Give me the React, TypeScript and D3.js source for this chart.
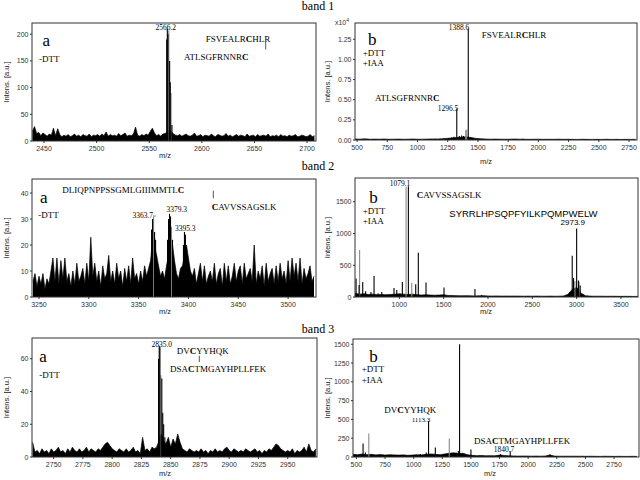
import React from "react";
import * as d3 from "d3";

// ---------------- DATA ----------------
// Band titles
const bandTitles = ["band 1", "band 2", "band 3"];

// Panel 1a (-DTT), noise profile sampled every 2 m/z from 2439
const base1aStart = 2439;
const base1aStep = 2;
const base1a = [
  18, 27, 14, 16, 10, 15, 12, 9, 13, 11,
  24, 10, 23, 12, 8, 11, 9, 12, 8, 10,
  13, 9, 11, 8, 12, 10, 9, 13, 8, 11,
  10, 12, 9, 13, 10, 17, 9, 12, 10, 11,
  9, 14, 10, 12, 15, 9, 11, 10, 13, 26,
  11, 9, 12, 10, 13, 11, 18, 24, 15, 10,
  12, 9, 13, 14, 16, 20, 18, 13, 11, 10,
  12, 9, 11, 13, 10, 9, 11, 15, 9, 10,
  12, 8, 11, 10, 9, 13, 10, 8, 12, 11,
  9, 10, 14, 9, 11, 8, 10, 12, 9, 11,
  10, 8, 13, 9, 10, 11, 8, 12, 9, 10,
  11, 9, 13, 8, 10, 9, 11, 8, 12, 9,
  10, 8, 11, 9, 10, 12, 8, 9, 11, 10,
  8, 9, 12, 8, 10,
];
const peaks1a: [number, number][] = [
  [2566.6, 190], [2567.2, 210], [2567.8, 200], [2569.4, 150], [2570.0, 110], [2571.6, 30],
];
const gray1a: [number, number][] = [[2568.6, 207], [2570.8, 90]];

// Panel 1b (+DTT +IAA), x10^4
const base1bStart = 483;
const base1bStep = 40;
const base1b = [
  0.012, 0.01, 0.014, 0.009, 0.011, 0.01, 0.012, 0.009, 0.01, 0.011,
  0.009, 0.01, 0.012, 0.009, 0.01, 0.011, 0.013, 0.012, 0.015, 0.02,
  0.025, 0.03, 0.035, 0.04, 0.03, 0.02, 0.015, 0.012, 0.01, 0.011,
  0.01, 0.009, 0.01, 0.012, 0.01, 0.009, 0.008, 0.009, 0.01, 0.008,
  0.009, 0.008, 0.01, 0.008, 0.009, 0.008, 0.007, 0.009, 0.008, 0.007,
  0.008, 0.007, 0.009, 0.007, 0.008, 0.007, 0.008, 0.007, 0.008,
];
const peaks1b: [number, number][] = [
  [590, 0.014], [1150, 0.015], [1228, 0.02], [1255, 0.025], [1283, 0.03], [1302, 0.04],
  [1325, 0.39], [1346, 0.05], [1366, 0.055], [1380, 0.05], [1420, 1.38], [1435, 0.03], [1873, 0.014],
];
const gray1b: [number, number][] = [[1399, 0.12], [1407, 0.13]];

// Panel 2a (-DTT)
const base2aStart = 3244;
const base2aStep = 2;
const base2a = [
  6, 9, 4, 8, 5, 9, 3, 7, 5, 10,
  15, 6, 15, 5, 14, 7, 15, 6, 9, 4,
  10, 5, 13, 6, 8, 11, 5, 13, 6, 23,
  8, 13, 6, 10, 4, 12, 7, 9, 16, 6,
  10, 5, 13, 7, 10, 4, 11, 6, 12, 5,
  15, 7, 9, 5, 10, 6, 12, 8, 11, 14,
  22, 20, 16, 12, 8, 10, 7, 12, 16, 22,
  20, 14, 9, 7, 11, 12, 16, 20, 15, 10,
  8, 11, 5, 9, 13, 6, 12, 5, 8, 10,
  6, 13, 5, 9, 11, 4, 13, 6, 12, 5,
  8, 13, 6, 10, 12, 5, 13, 7, 9, 11,
  6, 20, 5, 10, 7, 12, 4, 13, 6, 9,
  11, 5, 12, 6, 13, 7, 10, 5, 14, 6,
  15, 8, 13, 6, 15, 5, 11, 7, 9, 12,
  6, 8,
];
const peaks2a: [number, number][] = [
  [3363, 26], [3364, 30], [3366, 25], [3367, 22], [3368, 16],
  [3379, 22], [3380, 30], [3381, 32], [3382, 31], [3384, 22], [3385, 16],
  [3395, 20], [3396, 25], [3397, 24], [3398, 20], [3399, 16], [3400, 13],
];
const gray2a: [number, number][] = [[3365, 31], [3383, 27]];

// Panel 2b (+DTT +IAA)
const base2bStart = 500;
const base2bStep = 50;
const base2b = [
  60, 45, 50, 40, 45, 35, 40, 35, 40, 45,
  50, 45, 40, 45, 35, 30, 35, 30, 28, 30,
  35, 25, 22, 20, 18, 20, 18, 16, 18, 20,
  16, 15, 16, 14, 15, 14, 15, 14, 13, 14,
  13, 14, 13, 12, 14, 12, 13, 15, 40, 120,
  150, 60, 20, 14, 12, 13, 12, 11, 12, 11,
  10, 11, 10, 9, 10,
];
const peaks2b: [number, number][] = [
  [512, 290], [546, 190], [587, 237], [620, 90], [680, 80], [715, 330], [760, 60], [802, 80],
  [940, 140], [971, 110], [1034, 237], [1102, 1745], [1185, 200], [1214, 695], [1301, 230],
  [1504, 150], [1853, 125], [1929, 30], [2920, 80], [2950, 650], [2965, 300], [3000, 1080],
  [3020, 260], [3040, 180],
];
const gray2b: [number, number][] = [[552, 740], [1076, 1735], [1140, 221], [2981, 250], [3029, 240]];

// Panel 3a (-DTT)
const base3aStart = 2732;
const base3aStep = 2;
const base3a = [
  9, 3, 4, 2, 5, 3, 4, 2, 5, 3,
  4, 6, 3, 4, 2, 5, 3, 6, 4, 3,
  5, 3, 4, 6, 3, 5, 4, 3, 5, 4,
  6, 8, 9, 7, 5, 4, 3, 5, 4, 3,
  5, 3, 4, 6, 3, 4, 2, 12, 4, 5,
  3, 6, 5, 6, 10, 14, 10, 8, 12, 6,
  11, 8, 14, 9, 5, 4, 3, 5, 4, 3,
  4, 3, 5, 3, 4, 2, 4, 3, 5, 3,
  4, 3, 5, 6, 4, 3, 5, 4, 3, 4,
  3, 5, 4, 3, 4, 5, 3, 4, 2, 4,
  3, 5, 4, 6, 8, 7, 5, 4, 3, 4,
  3, 5, 2, 4, 3, 4, 6, 3, 8, 4,
  3, 5,
];
const peaks3a: [number, number][] = [
  [2839.6, 60], [2840.2, 68], [2840.8, 67], [2842.4, 48], [2843.2, 27], [2844, 20], [2845, 12],
];
const gray3a: [number, number][] = [[2841.6, 50]];

// Panel 3b (+DTT +IAA)
const base3bStart = 470;
const base3bStep = 40;
const base3b = [
  35, 30, 40, 30, 35, 28, 32, 25, 30, 28,
  25, 28, 22, 25, 30, 28, 35, 40, 35, 30,
  40, 50, 55, 45, 50, 30, 22, 18, 20, 16,
  18, 15, 25, 20, 15, 14, 12, 13, 12, 11,
  12, 11, 13, 25, 12, 10, 11, 10, 11, 10,
  10, 9, 10, 9, 8, 10, 9, 8, 9, 8,
  8, 9, 8,
];
const peaks3b: [number, number][] = [
  [558, 178], [578, 60], [1058, 40], [1110, 60], [1130, 480], [1189, 125], [1348, 50],
  [1370, 55], [1390, 80], [1401, 1500], [1500, 100], [1760, 40], [1843, 75], [2191, 35],
];
const gray3b: [number, number][] = [[608, 312], [1311, 245]];

// Tick values
const xTicks1a = [2450, 2500, 2550, 2600, 2650, 2700];
const yTicks1a = [0, 50, 100, 150, 200];
const xTicks1b = [500, 750, 1000, 1250, 1500, 1750, 2000, 2250, 2500, 2750];
const yTicks1b = [0, 0.25, 0.5, 0.75, 1.0, 1.25];
const xTicks2a = [3250, 3300, 3350, 3400, 3450, 3500];
const yTicks2a = [0, 10, 20, 30, 40];
const xTicks2b = [1000, 1500, 2000, 2500, 3000, 3500];
const yTicks2b = [0, 500, 1000, 1500];
const xTicks3a = [2750, 2775, 2800, 2825, 2850, 2875, 2900, 2925, 2950];
const yTicks3a = [0, 20, 40, 60];
const xTicks3b = [500, 750, 1000, 1250, 1500, 1750, 2000, 2250, 2500, 2750];
const yTicks3b = [0, 250, 500, 750, 1000, 1250, 1500];

// ---------------- RENDERING ----------------
const SERIF = "'Liberation Serif', 'Times New Roman', serif";
const SANS = "'Liberation Sans', Arial, sans-serif";

type Pt = [number, number];
interface Box { l: number; r: number; t: number; b: number }
interface PanelProps {
  id: string;
  box: Box;
  xDomain: [number, number];
  yDomain: [number, number];
  xTicks: number[];
  yTicks: number[];
  yFmt?: (v: number) => string;
  baseStart: number;
  baseStep: number;
  base: number[];
  peaks: Pt[];
  gray: Pt[];
  xLabelX: number;
  xLabelY: number;
  yLabelX: number;
  children?: React.ReactNode;
}

function Panel(p: PanelProps) {
  const { box } = p;
  const x = d3.scaleLinear().domain(p.xDomain).range([box.l, box.r]);
  const y = d3.scaleLinear().domain(p.yDomain).range([box.b, box.t]);
  const pts: Pt[] = p.base.map((v, i) => [p.baseStart + i * p.baseStep, v]);
  const area = d3.area<Pt>().x((d) => x(d[0])).y0(y(0)).y1((d) => y(d[1]));
  const line = d3.line<Pt>().x((d) => x(d[0])).y((d) => y(d[1]));
  const fmt = p.yFmt || ((v: number) => String(v));
  const clip = `clip-${p.id}`;
  return (
    <g>
      <defs>
        <clipPath id={clip}>
          <rect x={box.l} y={box.t} width={box.r - box.l} height={box.b - box.t} />
        </clipPath>
      </defs>
      <g clipPath={`url(#${clip})`}>
        <path d={area(pts) || ""} fill="#000" />
        <path d={line(pts) || ""} fill="none" stroke="#000" strokeWidth={0.7} />
        {p.gray.map((d, i) => (
          <line key={"g" + i} x1={x(d[0])} x2={x(d[0])} y1={y(0)} y2={y(d[1])} stroke="#8a8a8a" strokeWidth={1.1} />
        ))}
        {p.peaks.map((d, i) => (
          <line key={"p" + i} x1={x(d[0])} x2={x(d[0])} y1={y(0)} y2={y(d[1])} stroke="#000" strokeWidth={1.1} />
        ))}
      </g>
      <rect x={box.l} y={box.t} width={box.r - box.l} height={box.b - box.t} fill="none" stroke="#333" strokeWidth={1} />
      {p.xTicks.map((t) => (
        <g key={"xt" + t}>
          <line x1={x(t)} x2={x(t)} y1={box.b} y2={box.b + 2} stroke="#333" />
          <text x={x(t)} y={box.b + 9.5} fontFamily={SANS} fontSize={7} fill="#333" textAnchor="middle">{t}</text>
        </g>
      ))}
      {p.yTicks.map((t) => (
        <g key={"yt" + t}>
          <line x1={box.l - 2} x2={box.l} y1={y(t)} y2={y(t)} stroke="#333" />
          <text x={box.l - 3.5} y={y(t) + 2.5} fontFamily={SANS} fontSize={7} fill="#333" textAnchor="end">{fmt(t)}</text>
        </g>
      ))}
      <text x={p.xLabelX} y={p.xLabelY} fontFamily={SANS} fontSize={7.5} fill="#222" textAnchor="middle">m/z</text>
      <text transform={`translate(${p.yLabelX},${(box.t + box.b) / 2}) rotate(-90)`} fontFamily={SANS} fontSize={7.5} fill="#222" textAnchor="middle">Intens. [a.u.]</text>
      {p.children}
    </g>
  );
}

const T = (props: { x: number; y: number; size?: number; sans?: boolean; anchor?: string; children: React.ReactNode }) => (
  <text x={props.x} y={props.y} fontFamily={props.sans ? SANS : SERIF} fontSize={props.size || 9} fill="#000" textAnchor={props.anchor || "start"}>
    {props.children}
  </text>
);
const B = ({ children }: { children: React.ReactNode }) => <tspan fontWeight="bold">{children}</tspan>;

export default function App() {
  return (
    <svg width={640} height={480} style={{ position: "fixed", left: 0, top: 0, background: "#fff" }}>
      <rect x={0} y={0} width={640} height={480} fill="#fff" />
      <T x={318} y={10} size={12} anchor="middle">{bandTitles[0]}</T>
      <T x={318} y={170} size={12} anchor="middle">{bandTitles[1]}</T>
      <T x={318} y={333} size={12} anchor="middle">{bandTitles[2]}</T>

      {/* 1a */}
      <Panel id="p1a" box={{ l: 32, r: 316, t: 23, b: 141 }} xDomain={[2438.6, 2708.5]} yDomain={[0, 221]}
        xTicks={xTicks1a} yTicks={yTicks1a} baseStart={base1aStart} baseStep={base1aStep} base={base1a}
        peaks={peaks1a} gray={gray1a} xLabelX={165} xLabelY={158} yLabelX={8.5}>
        <T x={42.5} y={46} size={17}>a</T>
        <T x={39} y={61.5}>-DTT</T>
        <T x={165.7} y={30} size={7.5} anchor="middle">2566.2</T>
        <T x={205.7} y={41.5}>FSVEALR<B>C</B>HLR</T>
        <line x1={265.7} x2={265.7} y1={42} y2={49.5} stroke="#555" />
        <T x={184} y={60}>ATLSGFRNNR<B>C</B></T>
      </Panel>

      {/* 1b */}
      <Panel id="p1b" box={{ l: 355, r: 637, t: 23, b: 140 }} xDomain={[483, 2816]} yDomain={[0, 1.452]}
        xTicks={xTicks1b} yTicks={yTicks1b} yFmt={d3.format(".2f")} baseStart={base1bStart} baseStep={base1bStep}
        base={base1b} peaks={peaks1b} gray={gray1b} xLabelX={486} xLabelY={164} yLabelX={330}>
        <text x={349} y={25} fontFamily={SANS} fontSize={7} fill="#333" textAnchor="end">x10<tspan dy={-3} fontSize={5}>4</tspan></text>
        <T x={368} y={45} size={17}>b</T>
        <T x={362.7} y={56}>+DTT</T>
        <T x={362.7} y={66}>+IAA</T>
        <T x={459} y={30} size={7.5} anchor="middle">1388.6</T>
        <T x={448} y={110.7} size={7.5} anchor="middle">1296.5</T>
        <T x={481.7} y={37.7}>FSVEALR<B>C</B>HLR</T>
        <T x={375} y={101}>ATLSGFRNNR<B>C</B></T>
      </Panel>

      {/* 2a */}
      <Panel id="p2a" box={{ l: 32, r: 316, t: 179, b: 297 }} xDomain={[3243, 3528]} yDomain={[0, 45.4]}
        xTicks={xTicks2a} yTicks={yTicks2a} baseStart={base2aStart} baseStep={base2aStep} base={base2a}
        peaks={peaks2a} gray={gray2a} xLabelX={165} xLabelY={314} yLabelX={8.5}>
        <T x={40} y={203.3} size={17}>a</T>
        <T x={38.3} y={217.7}>-DTT</T>
        <T x={62.3} y={193.3}>DLIQPNPPSSGMLGIIIMMTL<B>C</B></T>
        <line x1={213.3} x2={213.3} y1={190.7} y2={198.3} stroke="#555" />
        <T x={211.7} y={210}><B>C</B>AVVSSAGSLK</T>
        <T x={153} y={218.3} size={7.5} anchor="end">3363.7</T>
        <line x1={153} x2={156} y1={216} y2={216} stroke="#555" strokeWidth={0.7} />
        <T x={176.7} y={212.3} size={7.5} anchor="middle">3379.3</T>
        <T x={185.3} y={230.7} size={7.5} anchor="middle">3395.3</T>
      </Panel>

      {/* 2b */}
      <Panel id="p2b" box={{ l: 355, r: 638, t: 178, b: 297 }} xDomain={[500, 3692]} yDomain={[0, 1874]}
        xTicks={xTicks2b} yTicks={yTicks2b} baseStart={base2bStart} baseStep={base2bStep} base={base2b}
        peaks={peaks2b} gray={gray2b} xLabelX={486} xLabelY={314} yLabelX={330}>
        <T x={369.3} y={203.3} size={17}>b</T>
        <T x={362.7} y={214.3}>+DTT</T>
        <T x={362.7} y={224}>+IAA</T>
        <T x={400} y={186} size={7.5} anchor="middle">1079.1</T>
        <T x={416.7} y={197.7}><B>C</B>AVVSSAGSLK</T>
        <T x={449.3} y={216.7} size={9.5} sans>SYRRLHPSQPFYILKPQMPWELW</T>
        <T x={572.8} y={225} size={8} sans anchor="middle">2973.9</T>
      </Panel>

      {/* 3a */}
      <Panel id="p3a" box={{ l: 32, r: 317, t: 338, b: 457 }} xDomain={[2731.5, 2975]} yDomain={[0, 72.7]}
        xTicks={xTicks3a} yTicks={yTicks3a} baseStart={base3aStart} baseStep={base3aStep} base={base3a}
        peaks={peaks3a} gray={gray3a} xLabelX={165} xLabelY={476} yLabelX={8.5}>
        <T x={39.3} y={361.7} size={17}>a</T>
        <T x={39.3} y={377.7}>-DTT</T>
        <T x={161.7} y={347.3} size={7.5} anchor="middle">2835.0</T>
        <T x={176.7} y={354.3}>DV<B>C</B>YYHQK</T>
        <line x1={199.3} x2={199.3} y1={355.7} y2={362} stroke="#555" />
        <T x={170} y={371.7}>DSA<B>C</B>TMGAYHPLLFEK</T>
      </Panel>

      {/* 3b */}
      <Panel id="p3b" box={{ l: 353, r: 639, t: 339, b: 457 }} xDomain={[470, 2968]} yDomain={[0, 1570]}
        xTicks={xTicks3b} yTicks={yTicks3b} baseStart={base3bStart} baseStep={base3bStep} base={base3b}
        peaks={peaks3b} gray={gray3b} xLabelX={490} xLabelY={476} yLabelX={330}>
        <T x={369.3} y={361.7} size={17}>b</T>
        <T x={361.7} y={372.3}>+DTT</T>
        <T x={361.7} y={382.7}>+IAA</T>
        <T x={384.3} y={412.7}>DV<B>C</B>YYHQK</T>
        <T x={421} y={421.5} size={7} anchor="middle">1113.3</T>
        <T x={474} y={444.3}>DSA<B>C</B>TMGAYHPLLFEK</T>
        <T x={504} y={452.3} size={7.5} anchor="middle">1840.7</T>
      </Panel>
    </svg>
  );
}
